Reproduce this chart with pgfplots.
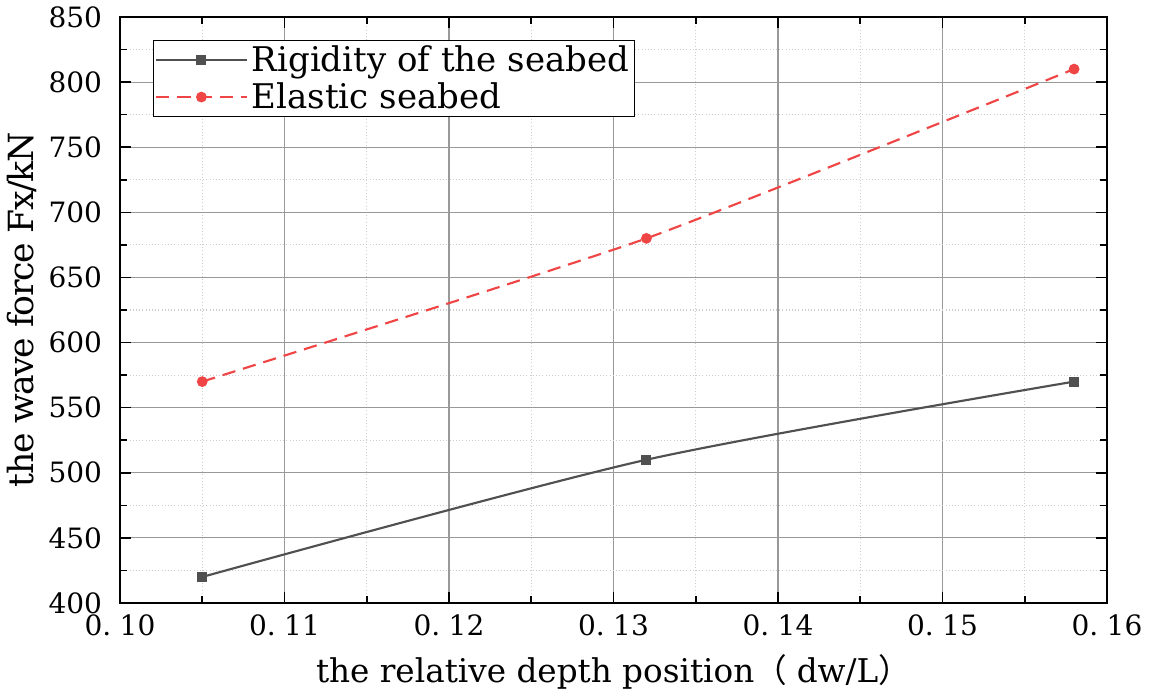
\documentclass[border=0pt]{standalone}
\usepackage{pgfplots}
\pgfplotsset{compat=1.18}
\usepackage{fontspec}
\setmainfont{DejaVu Serif}
\newfontfamily\cjk{Noto Sans CJK SC}
\definecolor{rigid}{HTML}{505050}
\definecolor{elastic}{HTML}{F04545}
\begin{document}
\begin{tikzpicture}[x=1pt,y=1pt]
\begin{axis}[
  scale only axis,
  width=740.25pt, height=439.5pt,
  xmin=0.10, xmax=0.16, ymin=400, ymax=850,
  xtick={0.10,0.11,0.12,0.13,0.14,0.15,0.16},
  xticklabels={0.\hspace{0.3em}10,0.\hspace{0.3em}11,0.\hspace{0.3em}12,0.\hspace{0.3em}13,0.\hspace{0.3em}14,0.\hspace{0.3em}15,0.\hspace{0.3em}16},
  ytick={400,450,...,850},
  minor x tick num=1, minor y tick num=1,
  tick align=inside,
  major tick length=8pt, minor tick length=5pt,
  tick style={black, line width=1.2pt},
  axis line style={black, line width=1.4pt},
  grid=both,
  major grid style={gray!80, line width=0.8pt},
  minor grid style={gray!40, dotted, line width=0.8pt},
  /pgf/number format/assume math mode=true,
  ticklabel style={font=\rmfamily\fontsize{21}{21}\selectfont},
  yticklabel style={xshift=-10pt},
  xticklabel style={yshift=-5pt, font=\rmfamily\fontsize{21}{21}\selectfont},
  xlabel={the relative depth position{\cjk（}\hspace{0.3em}dw/L{\cjk ）}},
  xlabel style={font=\rmfamily\fontsize{24.5}{24.5}\selectfont, yshift=-7pt},
  ylabel={\addfontfeatures{LetterSpace=-4}the wave force Fx/kN},
  ylabel style={font=\rmfamily\fontsize{26}{26}\selectfont, yshift=2pt},
  legend style={at={(rel axis cs:0,1)}, anchor=north west, xshift=24.75pt, yshift=-17.25pt,
    draw=black, line width=1pt, font=\rmfamily\fontsize{25.5}{25.5}\selectfont, inner sep=1pt,
    row sep=1pt, nodes={inner sep=3pt}},
  legend cell align=left,
  legend image code/.code={\draw[#1] (0pt,0pt) -- (68pt,0pt); \draw[#1, mark repeat=1, only marks] plot coordinates {(34pt,0pt)};},
]
\addplot[rigid, line width=1.6pt, smooth, tension=0.45, mark=square*, mark size=3pt, mark options={solid}]
  coordinates {(0.105,420) (0.132,510) (0.158,570)};
\addlegendentry{Rigidity of the seabed}
\addplot[elastic, line width=1.6pt, dashed, dash pattern=on 10pt off 6pt, smooth, tension=0.3, mark=*, mark size=3.2pt, mark options={solid}]
  coordinates {(0.105,570) (0.132,680) (0.158,810)};
\addlegendentry{Elastic seabed}
\end{axis}
\path (current axis.south west) ++(-90pt,-66pt) coordinate (bl);
\path (current axis.north east) ++(34.5pt,12.75pt) coordinate (tr);
\pgfresetboundingbox
\path[use as bounding box] (bl) rectangle (tr);
\end{tikzpicture}
\end{document}
